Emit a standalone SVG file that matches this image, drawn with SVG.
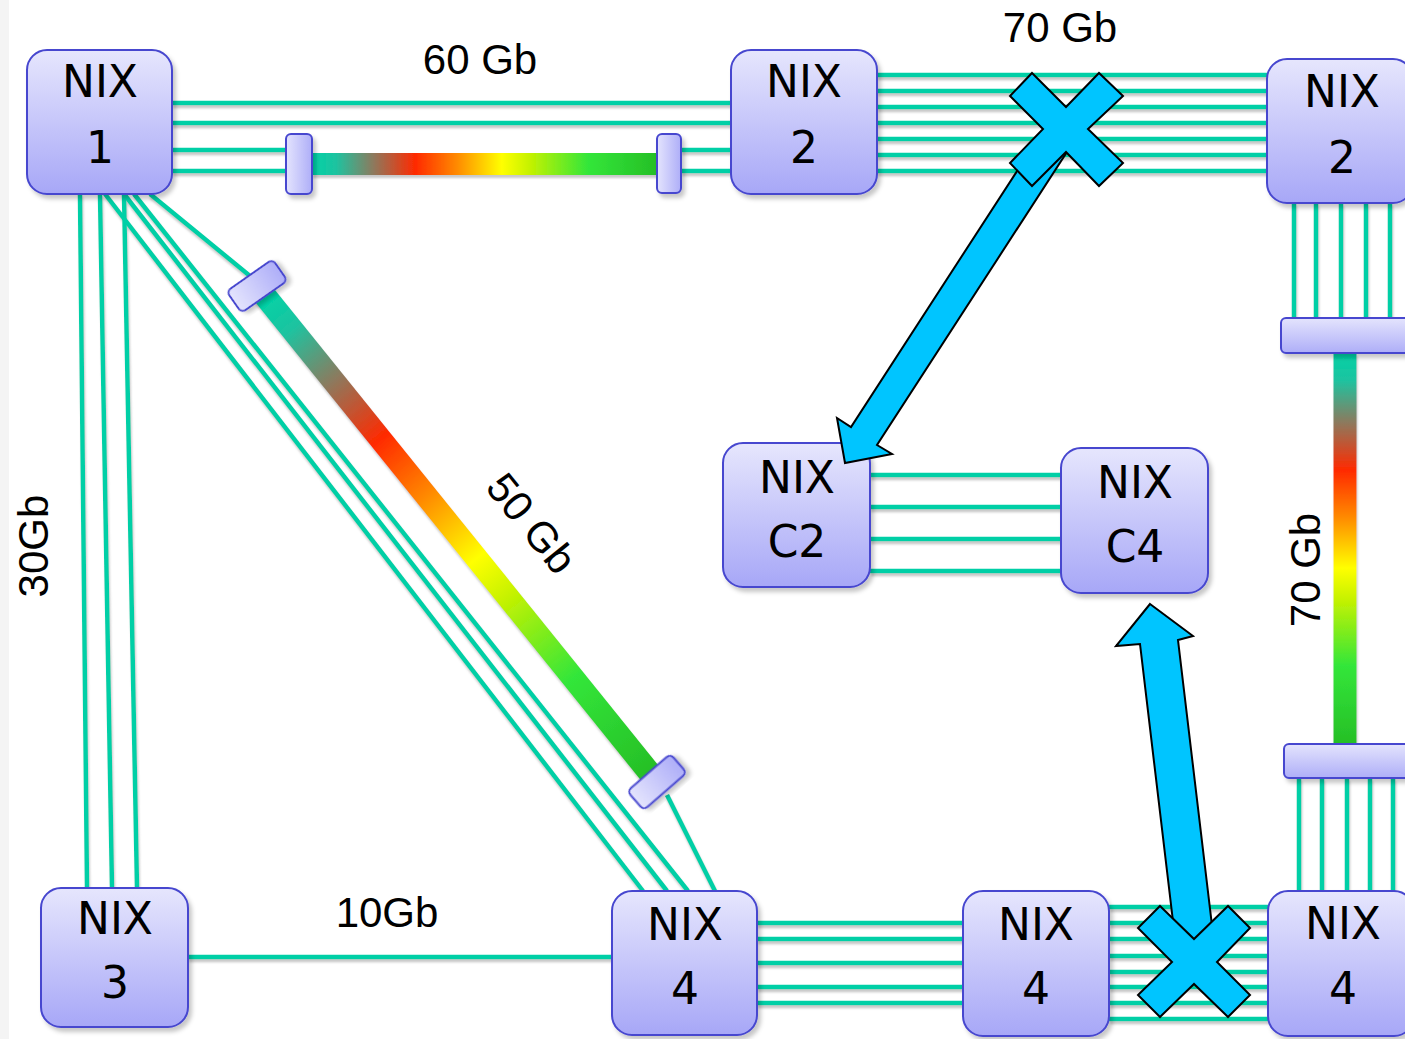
<svg xmlns="http://www.w3.org/2000/svg" width="1405" height="1039" viewBox="0 0 1405 1039">
<defs>
<style>
.node{fill:url(#ng);stroke:#4747cf;stroke-width:2;filter:url(#sh)}
.nt{font-family:"DejaVu Sans",Verdana,sans-serif;font-size:44px;fill:#000;text-anchor:middle}
.lbl{font-family:"Liberation Sans",Arial,sans-serif;font-size:42px;fill:#000;text-anchor:middle}
.ln{stroke:#00cfa6;stroke-width:4.5;fill:none}
.bar{stroke:#4747cf;stroke-width:2;filter:url(#sh)}
.big{fill:#00c5ff;stroke:#000;stroke-width:2;stroke-linejoin:miter}
</style>
<linearGradient id="ng" x1="0" y1="0" x2="0" y2="1"><stop offset="0" stop-color="#e6e6fd"/><stop offset="1" stop-color="#a7a7f7"/></linearGradient>
<linearGradient id="bh" x1="0" y1="0" x2="1" y2="0"><stop offset="0" stop-color="#e4e4fd"/><stop offset="1" stop-color="#aeaef8"/></linearGradient>
<linearGradient id="bv" x1="0" y1="0" x2="0" y2="1"><stop offset="0" stop-color="#e4e4fd"/><stop offset="1" stop-color="#aeaef8"/></linearGradient>
<linearGradient id="heat" x1="0" y1="0" x2="1" y2="0">
<stop offset="0" stop-color="#00d2a6"/><stop offset="0.07" stop-color="#1ec3a0"/><stop offset="0.18" stop-color="#8f785c"/><stop offset="0.3" stop-color="#ff2a00"/><stop offset="0.42" stop-color="#ff8a00"/><stop offset="0.55" stop-color="#ffff00"/><stop offset="0.63" stop-color="#c6f200"/><stop offset="0.8" stop-color="#33e63a"/><stop offset="1" stop-color="#26bf26"/>
</linearGradient>
<linearGradient id="heatH" href="#heat" gradientUnits="userSpaceOnUse" x1="312" y1="0" x2="657" y2="0"/>
<linearGradient id="heatV" href="#heat" gradientUnits="userSpaceOnUse" x1="0" y1="353" x2="0" y2="744"/>
<linearGradient id="heatD" href="#heat" gradientUnits="userSpaceOnUse" x1="265" y1="296" x2="650" y2="773"/>
<filter id="sh" x="-20%" y="-20%" width="150%" height="150%"><feDropShadow dx="3" dy="4" stdDeviation="2" flood-color="#000" flood-opacity="0.22"/></filter>
<filter id="lsh" x="-5%" y="-5%" width="110%" height="110%"><feDropShadow dx="1" dy="3" stdDeviation="0.8" flood-color="#888" flood-opacity="0.45"/></filter>
</defs>
<rect x="0" y="0" width="1405" height="1039" fill="#fff"/>
<rect x="0" y="0" width="9" height="1039" fill="#f4f4f4"/>

<g id="connectors" filter="url(#lsh)">
<path class="ln" d="M172 103H731M172 123H731M172 150H286M681 150H731M172 171H286M681 171H731"/>
<line x1="312" y1="164" x2="657" y2="164" stroke="url(#heatH)" stroke-width="22"/>
<path class="ln" d="M877 75H1267M877 91H1267M877 107H1267M877 123H1267M877 139H1267M877 155H1267M877 171H1267"/>
<path class="ln" d="M1294 203V318M1316 203V318M1341 203V318M1366 203V318M1390 203V318"/>
<line x1="1345" y1="353" x2="1345" y2="744" stroke="url(#heatV)" stroke-width="23"/>
<path class="ln" d="M1299 778V891M1322 778V891M1347 778V891M1370 778V891M1393 778V891"/>
<path class="ln" d="M870 475H1061M870 507H1061M870 539H1061M870 571H1061"/>
<path class="ln" d="M80 194L87 888M100 194L112 888M124 194L137 888"/>
<path class="ln" d="M105 194L643 891M124 194L667 891M134 194L688 891"/>
<path class="ln" d="M150 194L250 276M667 795L715 891"/>
<line x1="257" y1="286" x2="657" y2="782" stroke="url(#heatD)" stroke-width="23"/>
<path class="ln" d="M188 957H612"/>
<path class="ln" d="M757 923H963M757 939H963M757 963H963M757 987H963M757 1003H963"/>
<path class="ln" d="M1109 907H1268M1109 923H1268M1109 939H1268M1109 956H1268M1109 972H1268M1109 987H1268M1109 1003H1268M1109 1019H1268"/>
</g>

<g id="bundles">
<rect class="bar" x="286" y="134" width="26" height="60" rx="5" fill="url(#bh)"/>
<rect class="bar" x="657" y="134" width="24" height="59" rx="5" fill="url(#bh)"/>
<rect class="bar" x="1281" y="318" width="132" height="35" rx="5" fill="url(#bv)"/>
<rect class="bar" x="1284" y="744" width="130" height="34" rx="5" fill="url(#bv)"/>
<rect class="bar" x="-28" y="-13" width="56" height="26" rx="5" fill="url(#bh)" transform="translate(257 286) rotate(-35)"/>
<rect class="bar" x="-28.5" y="-12.5" width="57" height="25" rx="5" fill="url(#bh)" transform="translate(657 782) rotate(-41)"/>
</g>

<g id="n1"><rect class="node" x="27" y="50" width="145" height="144" rx="20"/><text class="nt" x="100" y="97">NIX</text><text class="nt" x="100" y="163">1</text></g>
<g id="n2a"><rect class="node" x="731" y="50" width="146" height="144" rx="20"/><text class="nt" x="804" y="97">NIX</text><text class="nt" x="804" y="163">2</text></g>
<g id="n2b"><rect class="node" x="1267" y="59" width="146" height="144" rx="20"/><text class="nt" x="1342" y="107">NIX</text><text class="nt" x="1342" y="173">2</text></g>
<g id="nc2"><rect class="node" x="723" y="443" width="147" height="144" rx="20"/><text class="nt" x="797" y="493">NIX</text><text class="nt" x="797" y="557">C2</text></g>
<g id="nc4"><rect class="node" x="1061" y="448" width="147" height="145" rx="20"/><text class="nt" x="1135" y="498">NIX</text><text class="nt" x="1135" y="562">C4</text></g>
<g id="n3"><rect class="node" x="41" y="888" width="147" height="139" rx="20"/><text class="nt" x="115" y="934">NIX</text><text class="nt" x="115" y="998">3</text></g>
<g id="n4a"><rect class="node" x="612" y="891" width="145" height="144" rx="20"/><text class="nt" x="685" y="940">NIX</text><text class="nt" x="685" y="1004">4</text></g>
<g id="n4b"><rect class="node" x="963" y="891" width="146" height="145" rx="20"/><text class="nt" x="1036" y="940">NIX</text><text class="nt" x="1036" y="1004">4</text></g>
<g id="n4c"><rect class="node" x="1268" y="891" width="146" height="145" rx="20"/><text class="nt" x="1343" y="939">NIX</text><text class="nt" x="1343" y="1004">4</text></g>

<g id="labels">
<text class="lbl" x="480" y="74">60 Gb</text>
<text class="lbl" x="1060" y="42">70 Gb</text>
<text class="lbl" transform="translate(48 546) rotate(-90)">30Gb</text>
<text class="lbl" transform="translate(1320 570) rotate(-90)">70 Gb</text>
<text class="lbl" transform="translate(532 523) rotate(51)" y="15">50 Gb</text>
<text class="lbl" x="387" y="927">10Gb</text>
</g>

<g id="arrow-top"><polygon class="big" points="1043,131 851,427 837,418 845,463 892,454 877,445 1069.5,148"/></g>
<g id="cross-top"><polygon class="big" points="1032,73 1066,107 1099,73 1123,96 1088,129 1123,163 1099,186 1066,152 1032,186 1010,163 1043,129 1010,96"/></g>
<g id="arrow-bottom"><polygon class="big" points="1150,604 1193,636 1178,640 1215.5,955 1177,955 1140,644 1116,646"/></g>
<g id="cross-bottom"><polygon class="big" points="1160,906 1194,939 1228,906 1250,928 1217,962 1250,995 1228,1017 1194,984 1160,1017 1138,995 1172,962 1138,928"/></g>
</svg>
